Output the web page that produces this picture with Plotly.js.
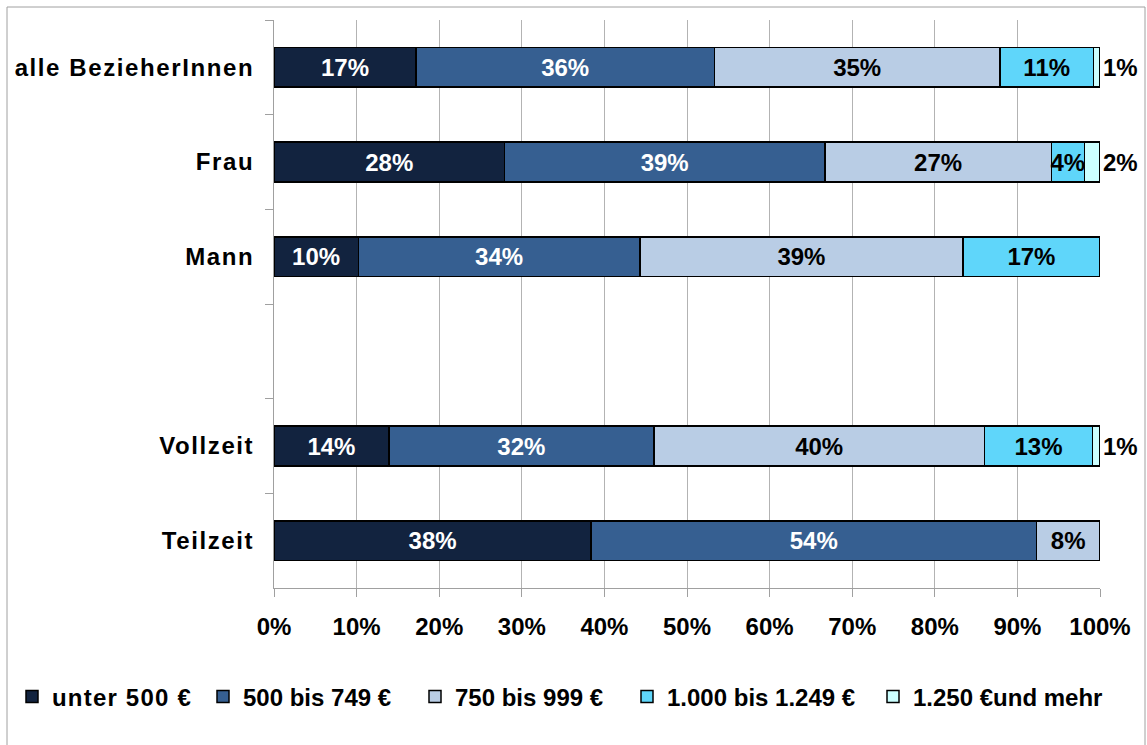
<!DOCTYPE html>
<html>
<head>
<meta charset="utf-8">
<script src="https://cdn.plot.ly/plotly-3.0.1.min.js"></script>
<style>
html,body{margin:0;padding:0;background:#fff;}
#chart{width:1147px;height:745px;}
.ytick text{letter-spacing:1.6px;}
text.legendtext{letter-spacing:1.2px;}
</style>
</head>
<body>
<div id="chart"></div>
<script>
// ---- data ----
const categories = ['alle BezieherInnen', 'Frau', 'Mann', ' ', 'Vollzeit', 'Teilzeit'];
const seriesNames = ['unter 500 €', '500 bis 749 €', '750 bis 999 €', '1.000 bis 1.249 €', '1.250 €und mehr'];
const unter500   = [17.2, 27.9, 10.2, null, 13.9, 38.4];
const bis749     = [36.1, 38.8, 34.1, null, 32.1, 53.9];
const bis999     = [34.6, 27.4, 39.1, null, 40.0, 7.7];
const bis1249    = [11.3, 4.0, 16.6, null, 13.1, 0];
const ab1250     = [0.8, 1.9, 0, null, 0.9, 0];
const xTickVals  = [0, 10, 20, 30, 40, 50, 60, 70, 80, 90, 100];
const xTickText  = ['0%', '10%', '20%', '30%', '40%', '50%', '60%', '70%', '80%', '90%', '100%'];

// ---- styling ----
const FONT = 'Liberation Sans, Arial, sans-serif';
const colors = ['#12233f', '#365f91', '#b9cde5', '#5fd6fa', '#ccffff'];
const textColors = ['#ffffff', '#ffffff', '#000000', '#000000', '#000000'];
const allSeries = [unter500, bis749, bis999, bis1249, ab1250];
const legendTextStart = [52, 243, 455, 667, 913];   // px positions of legend entries
const legendIds = ['legend', 'legend2', 'legend3', 'legend4', 'legend5'];

const traces = allSeries.map((vals, i) => {
  const last = i === allSeries.length - 1;
  return {
    type: 'bar',
    orientation: 'h',
    name: seriesNames[i],
    legend: legendIds[i],
    y: categories,
    x: vals,
    width: 0.42,
    marker: {color: colors[i], line: {color: '#000000', width: 1.5}},
    text: vals.map(v => (v && v > 0) ? Math.round(v) + '%' : ''),
    textposition: last ? 'outside' : 'inside',
    insidetextanchor: 'middle',
    constraintext: 'none',
    textangle: 0,
    cliponaxis: false,
    textfont: {family: FONT, size: 24, weight: 700, color: textColors[i]},
    outsidetextfont: {family: FONT, size: 24, weight: 700, color: '#000000'},
    hoverinfo: 'skip'
  };
});

const L = 274, R = 47, T = 20, B = 157, W = 1147, H = 745;
const pw = W - L - R, ph = H - T - B;

const layout = {
  width: W, height: H,
  margin: {l: L, r: R, t: T, b: B, pad: 0},
  barmode: 'stack',
  paper_bgcolor: '#ffffff',
  plot_bgcolor: '#ffffff',
  showlegend: true,
  xaxis: {
    range: [0, 100],
    tickvals: xTickVals,
    ticktext: xTickText,
    showgrid: true,
    gridcolor: '#b3b3b3',
    gridwidth: 1,
    showline: true,
    linecolor: '#a0a0a0',
    linewidth: 1,
    ticks: 'outside',
    ticklen: 8,
    tickcolor: '#a0a0a0',
    ticklabelstandoff: 9,
    zeroline: false,
    tickfont: {family: FONT, size: 24, weight: 700, color: '#000000'},
    fixedrange: true
  },
  yaxis: {
    type: 'category',
    categoryorder: 'array',
    categoryarray: categories,
    autorange: 'reversed',
    showgrid: false,
    showline: true,
    linecolor: '#a0a0a0',
    linewidth: 1,
    ticks: 'outside',
    tickson: 'boundaries',
    ticklen: 8,
    tickcolor: '#a0a0a0',
    ticklabelstandoff: 14,
    tickfont: {family: FONT, size: 24, weight: 700, color: '#000000'},
    fixedrange: true
  },
  shapes: [{
    type: 'rect', xref: 'paper', yref: 'paper',
    x0: (7 - L) / pw, x1: (1145 - L) / pw,
    y0: (H - B - 780) / ph, y1: (H - B - 7) / ph,
    line: {color: '#a0a0a0', width: 1},
    fillcolor: 'rgba(0,0,0,0)',
    layer: 'below'
  }]
};

legendIds.forEach((id, i) => {
  layout[id] = {
    orientation: 'h',
    xref: 'container', yref: 'container',
    x: (legendTextStart[i] - 40) / W, xanchor: 'left',
    y: (H - 697) / H, yanchor: 'middle',
    bgcolor: 'rgba(0,0,0,0)',
    font: {family: FONT, size: 24, weight: 700, color: '#000000'},
    itemwidth: 30
  };
});

Plotly.newPlot('chart', traces, layout, {displayModeBar: false, staticPlot: true});
</script>
</body>
</html>
